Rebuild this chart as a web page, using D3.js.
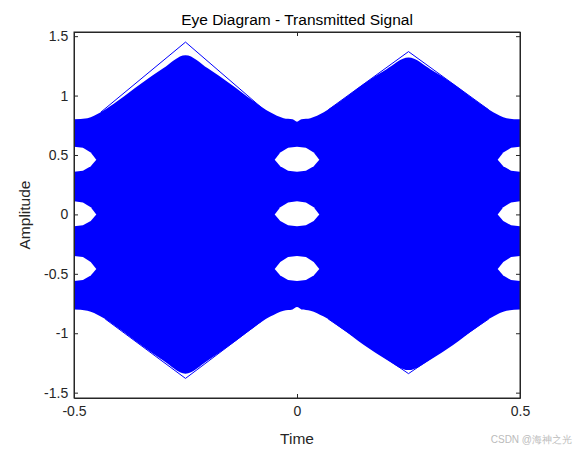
<!DOCTYPE html><html><head><script src="https://cdn.jsdelivr.net/npm/d3@7"></script>
<style>body{margin:0;background:#fff}text{font-family:Arial,"Liberation Sans",sans-serif}</style></head><body><svg id="c" width="575" height="450"></svg><script>
const xTicks=[-0.5,0,0.5];
const yTicks=[-1.5,-1,-0.5,0,0.5,1,1.5];
const upperEnv=[[-0.5,0.8],[-0.47,0.81],[-0.44,0.86],[-0.4,0.96],[-0.35,1.1],[-0.3,1.23],[-0.25,1.34],[-0.2,1.23],[-0.15,1.1],[-0.1,0.96],[-0.06,0.86],[-0.03,0.81],[-0.01,0.8],[0,0.78],[0.01,0.8],[0.03,0.81],[0.06,0.86],[0.1,0.96],[0.15,1.1],[0.2,1.22],[0.25,1.32],[0.3,1.22],[0.35,1.1],[0.4,0.96],[0.44,0.86],[0.47,0.81],[0.5,0.8]];
const lowerEnv=[[-0.5,-0.8],[-0.47,-0.81],[-0.44,-0.86],[-0.4,-0.96],[-0.35,-1.1],[-0.3,-1.23],[-0.25,-1.34],[-0.2,-1.23],[-0.15,-1.1],[-0.1,-0.96],[-0.06,-0.86],[-0.03,-0.81],[-0.01,-0.8],[0,-0.78],[0.01,-0.8],[0.03,-0.81],[0.06,-0.86],[0.1,-0.96],[0.15,-1.1],[0.2,-1.22],[0.25,-1.31],[0.3,-1.22],[0.35,-1.1],[0.4,-0.96],[0.44,-0.86],[0.47,-0.81],[0.5,-0.8]];
const eyeCenters=[-0.5,0,0.5];
// [mid level, top, bottom]
const eyeLevels=[[0.46,0.57,0.36],[0.0,0.11,-0.1],[-0.46,-0.35,-0.56]];
const eyeHalfWidth=0.05;
const outlierTop=[[-0.44,0.86],[-0.25,1.45],[-0.08,0.9]];
const outlierTop2=[[0.07,0.88],[0.25,1.37],[0.43,0.88]];
const outlierBot=[[-0.43,-0.88],[-0.25,-1.38],[-0.08,-0.9]];
const outlierBot2=[[0.07,-0.88],[0.25,-1.34],[0.43,-0.88]];

const svg=d3.select("#c");
const L=74,R=520,T=32,B=398;
const x=d3.scaleLinear().domain([-0.5,0.5]).range([L,R]);
const y=d3.scaleLinear().domain([-1.545,1.535]).range([B,T]);
svg.append("defs").append("clipPath").attr("id","cp").append("rect").attr("x",L).attr("y",T).attr("width",R-L).attr("height",B-T);
const g=svg.append("g").attr("clip-path","url(#cp)");
const area=d3.area().x(d=>x(d[0])).y0((d,i)=>y(lowerEnv[i][1])).y1(d=>y(d[1])).curve(d3.curveMonotoneX);
g.append("path").attr("d",area(upperEnv)).attr("fill","#0000ff");
const line=d3.line().x(d=>x(d[0])).y(d=>y(d[1]));
[outlierTop,outlierTop2,outlierBot,outlierBot2].forEach(o=>g.append("path").attr("d",line(o)).attr("fill","none").attr("stroke","#0000ff").attr("stroke-width",1));
eyeCenters.forEach(cx=>eyeLevels.forEach(e=>{
  const h=e[1]-e[0], hb=e[0]-e[2], w=eyeHalfWidth;
  const pts=[[cx-w,e[0]],[cx-w*0.75,e[0]+h*0.55],[cx-w*0.4,e[0]+h*0.92],[cx,e[1]],[cx+w*0.4,e[0]+h*0.92],[cx+w*0.75,e[0]+h*0.55],[cx+w,e[0]],
             [cx+w*0.75,e[0]-hb*0.55],[cx+w*0.4,e[0]-hb*0.92],[cx,e[2]],[cx-w*0.4,e[0]-hb*0.92],[cx-w*0.75,e[0]-hb*0.55]];
  g.append("path").attr("d",line(pts)+"Z").attr("fill","#fff");
}));
const fmt=d=>String(d);
const ax=svg.append("g").attr("transform",`translate(0,${B})`).call(d3.axisBottom(x).tickValues(xTicks).tickSize(-4).tickSizeOuter(0).tickFormat(fmt));
const axT=svg.append("g").attr("transform",`translate(0,${T})`).call(d3.axisTop(x).tickValues(xTicks).tickSize(-4).tickSizeOuter(0).tickFormat(""));
const ay=svg.append("g").attr("transform",`translate(${L},0)`).call(d3.axisLeft(y).tickValues(yTicks).tickSize(-4).tickSizeOuter(0).tickFormat(fmt));
const ayR=svg.append("g").attr("transform",`translate(${R},0)`).call(d3.axisRight(y).tickValues(yTicks).tickSize(-4).tickSizeOuter(0).tickFormat(""));
[ax,axT,ay,ayR].forEach(a=>{a.selectAll("path,line").attr("stroke","#262626");a.selectAll("text").attr("font-size",14).attr("fill","#262626")});
ax.selectAll("text").attr("dy","1.1em");
ay.selectAll("text").attr("dx","-0.2em");
svg.append("rect").attr("x",L).attr("y",T).attr("width",R-L).attr("height",B-T).attr("fill","none").attr("stroke","#262626");
svg.append("text").attr("x",(L+R)/2).attr("y",25).attr("text-anchor","middle").attr("font-size",15.5).attr("fill","#000").text("Eye Diagram - Transmitted Signal");
svg.append("text").attr("x",(L+R)/2).attr("y",444).attr("text-anchor","middle").attr("font-size",15.5).attr("fill","#262626").text("Time");
svg.append("text").attr("transform",`translate(30,${(T+B)/2}) rotate(-90)`).attr("text-anchor","middle").attr("font-size",15.5).attr("fill","#262626").text("Amplitude");
svg.append("text").attr("x",572).attr("y",443).attr("text-anchor","end").attr("font-size",10).attr("fill","#bbb").text("CSDN @海神之光");
</script></body></html>
